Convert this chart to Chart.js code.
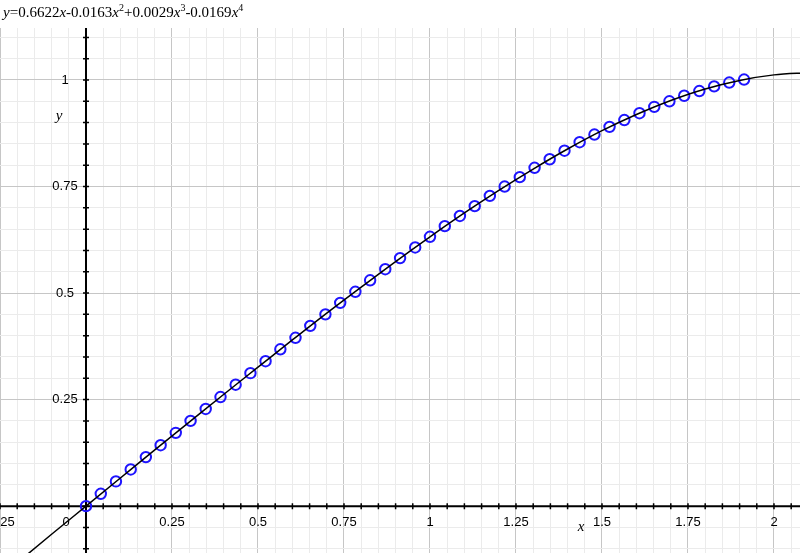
<!DOCTYPE html>
<html>
<head>
<meta charset="UTF-8">
<title>Polynomial fit</title>
<script src="https://cdn.jsdelivr.net/npm/chart.js"></script>
<style>
  body { margin: 0; background: #fff; }
  #wrap { position: relative; width: 800px; height: 553px; }
  #eq {
    position: absolute; left: 3px; top: 4px;
    font-family: "Liberation Serif", "DejaVu Serif", serif;
    font-size: 15px; color: #000; white-space: nowrap;
  }
  #eq sup { font-size: 10px; vertical-align: 6px; line-height: 0; }
</style>
</head>
<body>
<div id="wrap">
  <div id="eq"><i>y</i>=0.6622<i>x</i>-0.0163<i>x</i><sup>2</sup>+0.0029<i>x</i><sup>3</sup>-0.0169<i>x</i><sup>4</sup></div>
  <canvas id="chart"></canvas>
</div>
<script>
// measured points (blue circles)
const pointX = [0, 0.043, 0.087, 0.130, 0.174, 0.217, 0.261, 0.304, 0.348, 0.391,
  0.435, 0.478, 0.522, 0.565, 0.609, 0.652, 0.696, 0.739, 0.783, 0.826,
  0.870, 0.913, 0.957, 1.000, 1.043, 1.087, 1.130, 1.174, 1.217, 1.261,
  1.304, 1.348, 1.391, 1.435, 1.478, 1.522, 1.565, 1.609, 1.652, 1.696,
  1.739, 1.783, 1.826, 1.870, 1.913];
const pointY = [0, 0.029, 0.058, 0.086, 0.115, 0.143, 0.172, 0.200, 0.228, 0.256,
  0.285, 0.312, 0.340, 0.368, 0.395, 0.423, 0.450, 0.477, 0.503, 0.530,
  0.556, 0.582, 0.607, 0.632, 0.657, 0.681, 0.704, 0.728, 0.750, 0.772,
  0.794, 0.814, 0.834, 0.854, 0.872, 0.890, 0.906, 0.922, 0.937, 0.950,
  0.963, 0.974, 0.985, 0.994, 1.001];

// fitted curve (black line)
const curveX = [-0.25, -0.2, -0.1, 0, 0.1, 0.2, 0.3, 0.4, 0.5, 0.6, 0.7, 0.8, 0.9,
  1.0, 1.1, 1.2, 1.3, 1.4, 1.5, 1.6, 1.7, 1.8, 1.9, 2.0, 2.1];
const curveY = [-0.167, -0.133, -0.066, 0, 0.066, 0.132, 0.197, 0.262, 0.326, 0.390,
  0.453, 0.514, 0.574, 0.632, 0.688, 0.741, 0.791, 0.838, 0.881, 0.919,
  0.952, 0.979, 0.999, 1.012, 1.017];

const xLabels = [-0.25, 0, 0.25, 0.5, 0.75, 1, 1.25, 1.5, 1.75, 2];
const yLabels = [0.25, 0.5, 0.75, 1];

const isMajor = v => Math.abs(v / 0.25 - Math.round(v / 0.25)) < 1e-6;
const gridColor = ctx => isMajor(ctx.tick.value) ? '#c6c6c6' : '#ebebeb';

// axes through the origin, with ticks and labels
const originAxes = {
  id: 'originAxes',
  beforeDatasetsDraw(chart) {
    const c = chart.ctx, xs = chart.scales.x, ys = chart.scales.y;
    const area = chart.chartArea;
    const x0 = xs.getPixelForValue(0), y0 = ys.getPixelForValue(0);
    c.save();
    c.strokeStyle = '#000';
    c.lineWidth = 2;
    c.beginPath();
    c.moveTo(area.left, y0); c.lineTo(area.right, y0);
    c.moveTo(x0, area.top); c.lineTo(x0, area.bottom);
    c.stroke();
    c.lineWidth = 1.5;
    c.beginPath();
    for (let v = -0.25; v <= 2.1; v += 0.05) {
      const px = xs.getPixelForValue(v);
      c.moveTo(px, y0 - 3); c.lineTo(px, y0 + 3);
    }
    for (let v = -0.1; v <= 1.12; v += 0.05) {
      const py = ys.getPixelForValue(v);
      c.moveTo(x0 - 3, py); c.lineTo(x0 + 3, py);
    }
    c.stroke();

    c.fillStyle = '#000';
    c.font = '13px "Liberation Sans", Arial, sans-serif';
    c.textAlign = 'center';
    c.textBaseline = 'middle';
    xLabels.forEach(v => {
      let px = xs.getPixelForValue(v);
      if (v === 0) px -= 20;
      c.fillText(String(v), px, y0 + 16);
    });
    yLabels.forEach(v => {
      c.fillText(String(v), x0 - 21, ys.getPixelForValue(v));
    });

    c.font = 'italic 15px "Liberation Serif", serif';
    c.fillText('x', 581, 527);
    c.fillText('y', 59, 116);
    c.restore();
  }
};

new Chart(document.getElementById('chart'), {
  type: 'scatter',
  data: {
    datasets: [{
      label: 'fit',
      data: curveX.map((x, i) => ({ x: x, y: curveY[i] })),
      showLine: true,
      pointRadius: 0,
      borderColor: '#000',
      borderWidth: 1.5,
      cubicInterpolationMode: 'monotone'
    }, {
      label: 'data',
      data: pointX.map((x, i) => ({ x: x, y: pointY[i] })),
      showLine: false,
      pointStyle: 'circle',
      pointRadius: 5.2,
      pointBorderWidth: 2,
      borderColor: 'rgb(30,20,255)',
      pointBackgroundColor: 'rgba(0,0,0,0)',
      pointHoverRadius: 5.2
    }]
  },
  options: {
    responsive: true,
    maintainAspectRatio: false,
    animation: false,
    layout: { autoPadding: false, padding: { top: 28, left: 0, right: 0, bottom: 0 } },
    plugins: { legend: { display: false }, tooltip: { enabled: false } },
    scales: {
      x: {
        type: 'linear', min: -0.25, max: 2.0756,
        ticks: { display: false, stepSize: 0.05, includeBounds: false },
        border: { display: false },
        grid: { color: gridColor, lineWidth: 1, drawTicks: false, tickLength: 0 }
      },
      y: {
        type: 'linear', min: -0.11, max: 1.122,
        ticks: { display: false, stepSize: 0.05, includeBounds: false },
        border: { display: false },
        grid: { color: gridColor, lineWidth: 1, drawTicks: false, tickLength: 0 }
      }
    }
  },
  plugins: [originAxes]
});
</script>
</body>
</html>
